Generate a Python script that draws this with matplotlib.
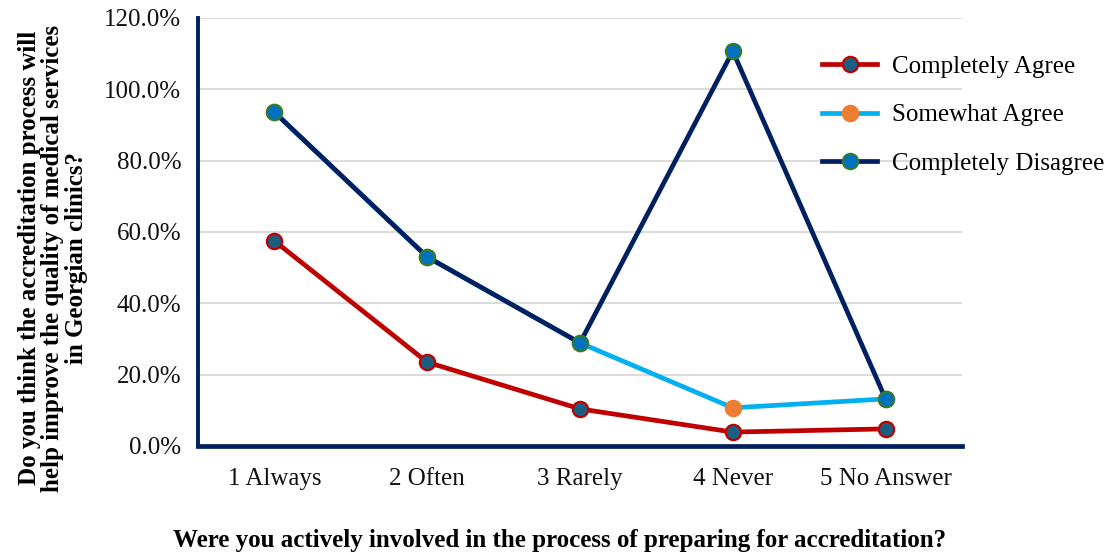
import matplotlib
matplotlib.use("Agg")
import matplotlib.pyplot as plt
from matplotlib.ticker import PercentFormatter

plt.rcParams["font.family"] = ["Liberation Serif", "DejaVu Serif"]

# survey responses, share of respondents (%)
CATS = ["1 Always", "2 Often", "3 Rarely", "4 Never", "5 No Answer"]
AGREE = [57.5, 23.5, 10.4, 3.9, 4.8]
SOMEWHAT = [93.6, 53.0, 28.9, 10.7, 13.2]
DISAGREE = [93.6, 53.0, 28.9, 110.7, 13.2]

NAVY, RED, SKY = "#002060", "#C00000", "#00B0F0"
FS = 18

fig = plt.figure(figsize=(11.1, 5.56), dpi=100)
ax = fig.add_axes([198 / 1110, 1 - 446 / 556, 764 / 1110, 428 / 556])

x = range(len(CATS))
ax.plot(x, AGREE, color=RED, lw=3.4, marker="o", ms=11, mfc="#1A5F82", mec=RED,
        mew=1.6, label="Completely Agree", zorder=3)
ax.plot(x, SOMEWHAT, color=SKY, lw=3.4, marker="o", ms=11, mfc="#ED7D31", mec="#ED7D31",
        mew=1.6, label="Somewhat Agree", zorder=4)
ax.plot(x, DISAGREE, color=NAVY, lw=3.4, marker="o", ms=11, mfc="#0070C0", mec="#2E7D32",
        mew=1.6, label="Completely Disagree", zorder=5)

ax.set_xlim(-0.5, 4.5)
ax.set_ylim(0, 120)
ax.set_yticks(range(0, 121, 20))
ax.yaxis.set_major_formatter(PercentFormatter(decimals=1))
ax.set_xticks(list(x))
ax.set_xticklabels(CATS)
ax.tick_params(length=0, labelsize=FS, colors="#111111")
ax.tick_params(axis="y", pad=12)
ax.tick_params(axis="x", pad=16)
ax.grid(axis="y", color="#D9D9D9", lw=1.3)
ax.set_axisbelow(True)
for s in ("top", "right"):
    ax.spines[s].set_visible(False)
ax.spines["left"].set_color(NAVY)
ax.spines["left"].set_linewidth(2.8)
ax.spines["bottom"].set_color(NAVY)
ax.spines["bottom"].set_linewidth(3.4)

fig.text(53 / 1110, 1 - 258 / 556,
         "Do you think the accreditation process will\n"
         "help improve the quality of medical services\n"
         "in Georgian clinics?", rotation=90, ha="center", va="center",
         fontsize=FS, fontweight="bold", linespacing=1.05, multialignment="center")
fig.text(560 / 1110, 1 - 540 / 556,
         "Were you actively involved in the process of preparing for accreditation?",
         ha="center", va="center", fontsize=FS, fontweight="bold")

ax.legend(loc="upper left", bbox_to_anchor=(822 / 1110, 1 - 55 / 556),
          bbox_transform=fig.transFigure, frameon=False, fontsize=FS,
          handlelength=2.2, handletextpad=0.6, labelspacing=1.05, borderaxespad=0,
          borderpad=0)

fig.savefig("out.png", dpi=100)
